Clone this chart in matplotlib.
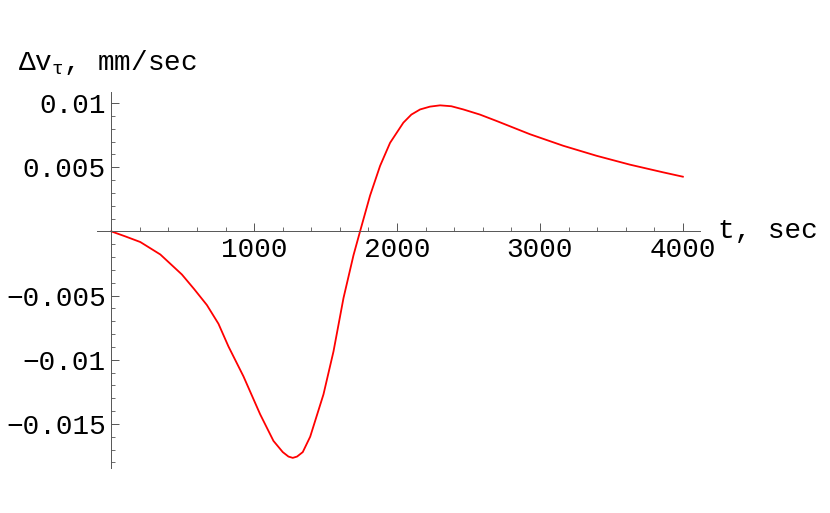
import matplotlib
matplotlib.use('Agg')
import matplotlib.pyplot as plt
from matplotlib.ticker import MultipleLocator, FixedLocator

# values
t = [0, 100, 203, 343, 494, 580, 669, 750, 820, 925, 1042, 1135, 1200, 1240, 1270,
     1300, 1340, 1392, 1485, 1555, 1625, 1695, 1741, 1811, 1881, 1951, 2044, 2100,
     2161, 2230, 2301, 2380, 2464, 2580, 2697, 2930, 3163, 3396, 3629, 3862, 4000]
dv = [0.0, -0.00040, -0.00083, -0.0018, -0.00336, -0.0045, -0.00574, -0.0072, -0.00897,
      -0.0113, -0.01426, -0.01633, -0.0172, -0.01755, -0.01765,
      -0.01755, -0.0172, -0.0160, -0.0127, -0.00936, -0.0052, -0.00186, 0.0, 0.00279,
      0.0051, 0.0069, 0.00847, 0.0091,
      0.0095, 0.00972, 0.00982, 0.00975, 0.0095, 0.0091, 0.0086, 0.00757, 0.00667,
      0.00589, 0.0052, 0.0046, 0.00426]

x_major = [1000, 2000, 3000, 4000]
y_major = [-0.015, -0.01, -0.005, 0.005, 0.01]
y_labels = ['\u22120.015', '\u22120.01', '\u22120.005', '0.005', '0.01']

plt.rcParams['font.family'] = ['Liberation Mono', 'DejaVu Sans']
plt.rcParams['mathtext.fontset'] = 'custom'
plt.rcParams['mathtext.rm'] = 'Liberation Mono'
plt.rcParams['mathtext.it'] = 'Liberation Mono'

fig = plt.figure(figsize=(8.3, 5.13), dpi=100)
W, H = 830, 513
# axes box in pixels: x 97..700, y 92..468
ax = fig.add_axes([97 / W, (H - 468) / H, (700 - 97) / W, (468 - 92) / H])

ax.plot(t, dv, color='#ff0000', lw=1.3)

ax.set_xlim(-100, 4120)
ax.set_ylim(-0.01844, 0.01086)

for s in ['top', 'right']:
    ax.spines[s].set_visible(False)
ax.spines['left'].set_position(('data', 0))
ax.spines['bottom'].set_position(('data', 0))
for s in ['left', 'bottom']:
    ax.spines[s].set_linewidth(0.7)
    ax.spines[s].set_color('#555555')

ax.xaxis.set_major_locator(FixedLocator(x_major))
ax.xaxis.set_minor_locator(MultipleLocator(200))
ax.set_xticklabels([str(v) for v in x_major])
ax.yaxis.set_major_locator(FixedLocator(y_major))
ax.yaxis.set_minor_locator(MultipleLocator(0.001))
ax.set_yticklabels(y_labels)

ax.tick_params(axis='both', which='both', direction='in', colors='#555555', labelcolor='black',
               labelsize=20, pad=4)
ax.tick_params(which='major', length=6, width=0.7)
ax.tick_params(which='minor', length=3, width=0.6)

fig.text(718 / W, 1 - 231 / H, 't, sec', fontsize=20, ha='left', va='center')
fig.text(18 / W, 1 - 63 / H, r'$\Delta$v$_{\tau}$, mm/sec', fontsize=20, ha='left', va='center')

fig.savefig('out.png', dpi=100)
